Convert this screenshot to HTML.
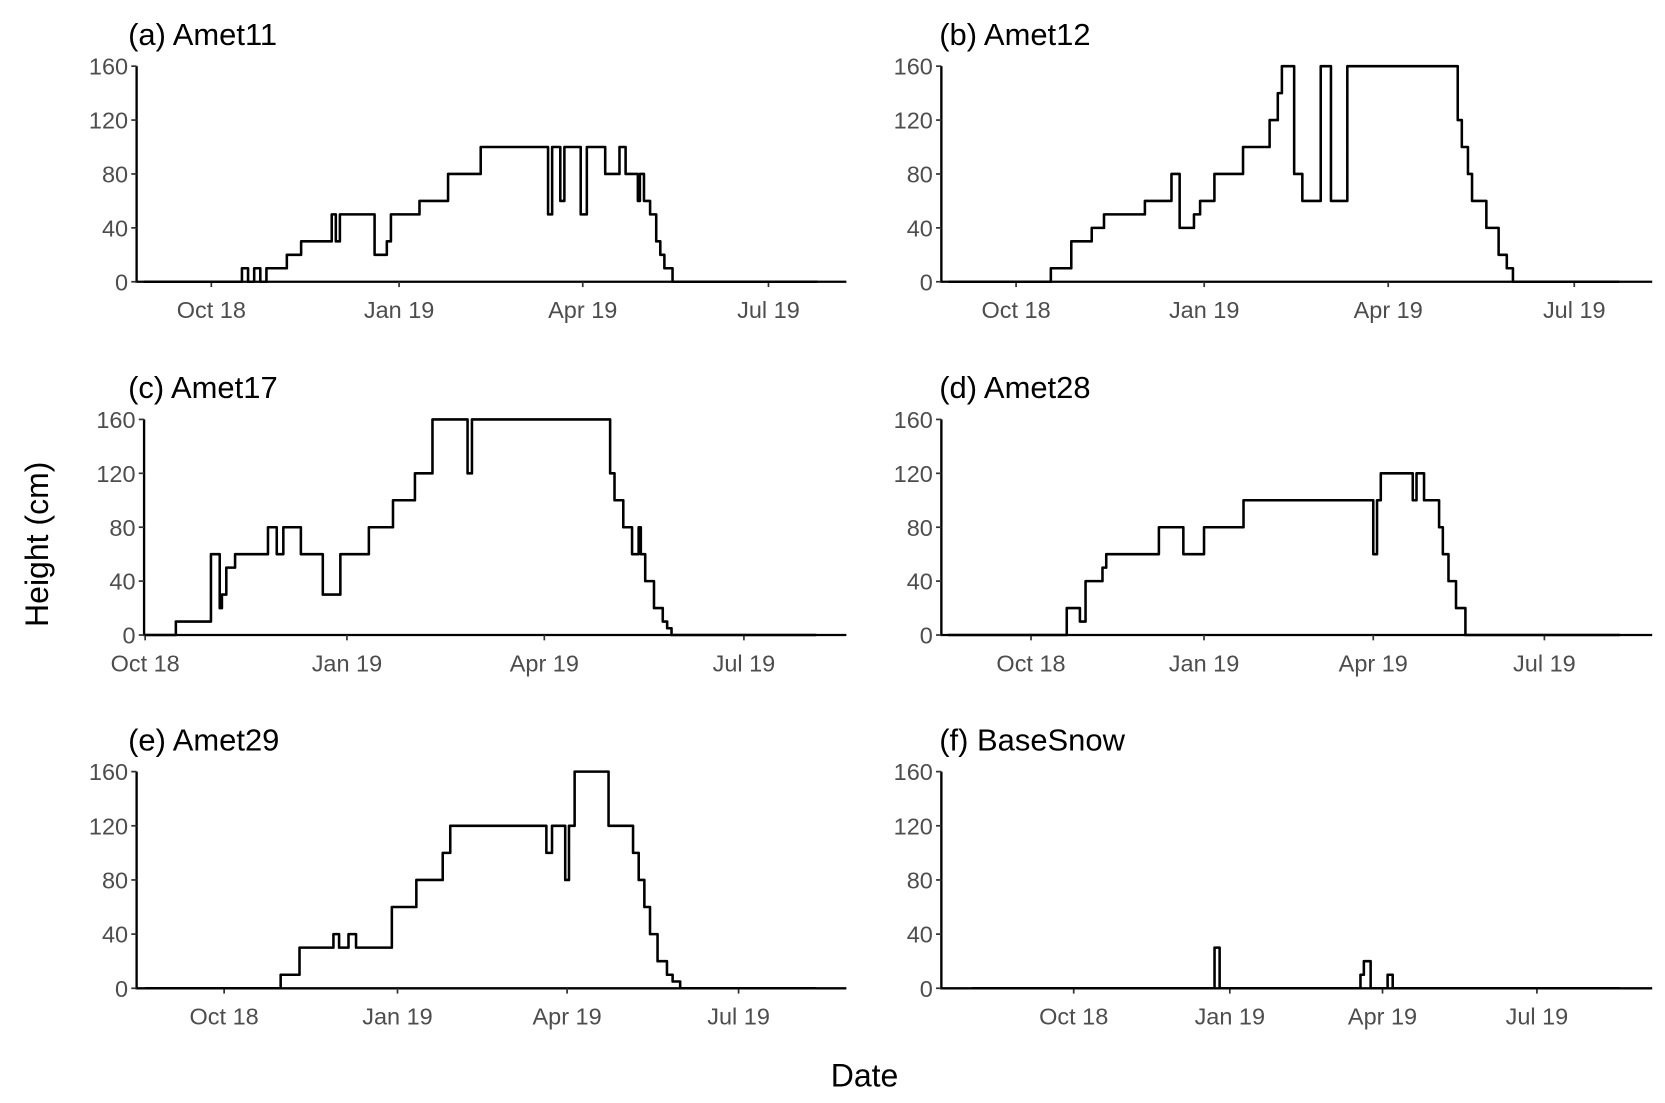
<!DOCTYPE html>
<html><head><meta charset="utf-8"><style>
html,body{margin:0;padding:0;background:#fff}
svg{display:block}
text{font-family:"Liberation Sans",sans-serif}
</style></head><body>
<svg id="fig" width="1665" height="1103" viewBox="0 0 1560 1033.5" preserveAspectRatio="none"></svg>
<script>
// x values: days since 1 Oct 2018; y values: snow height (cm), step series
const tickLabelsX = ["Oct 18","Jan 19","Apr 19","Jul 19"];
const tickDaysX = [0,92,182,273];
const tickLabelsY = ["0","40","80","120","160"];
const tickValuesY = [0,40,80,120,160];
const panelTitles = ["(a) Amet11","(b) Amet12","(c) Amet17","(d) Amet28","(e) Amet29","(f) BaseSnow"];

const daysA = [-33,15,18,21,24,27,37,44,59,61,63,80,86,88,102,116,132,165,167,171,173,181,184,193,200,203,209,210,212,215,218,220,222,226,297];
const valsA = [0,10,0,10,0,10,20,30,50,30,50,20,30,50,60,80,100,50,100,60,100,50,100,80,100,80,60,80,60,50,30,20,10,0,0];
const daysB = [-33,17,27,37,43,63,76,80,87,90,97,111,124,128,130,136,140,149,154,162,216,218,221,223,230,236,240,243,295];
const valsB = [0,10,30,40,50,60,80,40,50,60,80,100,120,140,160,80,60,160,60,160,120,100,80,60,40,20,10,0,0];
const daysC = [0,14,30,34,35,37,41,56,60,63,71,81,89,102,113,123,131,147,149,212,214,218,222,225,226,228,232,236,238,240,306];
const valsC = [0,10,60,20,30,50,60,80,60,80,60,30,60,80,100,120,160,120,160,120,100,80,60,80,60,40,20,10,5,0,0];
const daysD = [-44,19,26,29,38,40,68,81,92,113,182,184,186,203,205,209,217,219,222,226,231,313];
const valsD = [0,20,10,40,50,60,80,60,80,100,60,100,120,100,120,100,80,60,40,20,0,0];
const daysE = [-42,30,40,58,61,66,70,89,102,116,120,171,174,181,183,186,204,217,220,223,226,230,235,238,242,314];
const valsE = [0,10,30,40,30,40,30,60,80,100,120,100,120,80,120,160,120,100,80,60,40,20,10,5,0,0];
const daysF = [-60,83,86,169,171,175,177,185,188,322];
const valsF = [0,30,0,10,20,0,0,10,0,0];

const panels = [
 {L:128,R:793,T:62,B:264,x0:198,x1:720,days:daysA,vals:valsA,ty:42,tx:120},
 {L:882,R:1548,T:62,B:264,x0:952,x1:1475,days:daysB,vals:valsB,ty:42,tx:880},
 {L:135,R:793,T:393,B:595,x0:136,x1:697,days:daysC,vals:valsC,ty:373,tx:120},
 {L:882,R:1548,T:393,B:595,x0:966,x1:1447,days:daysD,vals:valsD,ty:373,tx:880},
 {L:128,R:793,T:723,B:926,x0:210,x1:692,days:daysE,vals:valsE,ty:703,tx:120},
 {L:882,R:1548,T:723,B:926,x0:1006,x1:1440,days:daysF,vals:valsF,ty:703,tx:880}
];
const NS="http://www.w3.org/2000/svg";
const svg=document.getElementById('fig');
function mk(tag,attrs,parent){const e=document.createElementNS(NS,tag);for(const k in attrs)e.setAttribute(k,attrs[k]);(parent||svg).appendChild(e);return e;}
panels.forEach((p,i)=>{
  const g=mk('g',{});
  
  
  const xs=d=>p.x0+(d-tickDaysX[0])*(p.x1-p.x0)/(tickDaysX[3]-tickDaysX[0]);
  const ys=v=>p.B-(v/160)*(p.B-p.T);
  const t=mk('text',{x:p.tx,y:p.ty,'font-size':29,fill:'#000'},g);
  t.textContent=panelTitles[i];
  
  
  const ax=mk('path',{d:`M${p.L},${p.T}V${p.B}H${p.R}`,stroke:'#000','stroke-width':2.2,fill:'none'},g);
  
  
  tickValuesY.forEach((v,j)=>{
    mk('line',{x1:p.L-5,x2:p.L,y1:ys(v),y2:ys(v),stroke:'#333','stroke-width':1.6},g);
    const tl=mk('text',{x:p.L-8,y:ys(v)+8,'font-size':22,fill:'#4d4d4d','text-anchor':'end'},g);
    tl.textContent=tickLabelsY[j];
    
    
  });
  tickDaysX.forEach((d,j)=>{
    mk('line',{x1:xs(d),x2:xs(d),y1:p.B,y2:p.B+5,stroke:'#333','stroke-width':1.6},g);
    const tl=mk('text',{x:xs(d),y:p.B+34,'font-size':22,fill:'#4d4d4d','text-anchor':'middle'},g);
    tl.textContent=tickLabelsX[j];
    
    
  });
  let d='';
  p.days.forEach((dd,k)=>{
    const x=xs(dd),y=ys(p.vals[k]);
    if(k===0) d+=`M${x},${y}`;
    else d+=`H${x}V${y}`;
  });
  const ln=mk('path',{d:d,stroke:'#000','stroke-width':2.4,fill:'none','stroke-linejoin':'round'},g);
  
  
});
const yt=mk('text',{x:0,y:0,'font-size':30,fill:'#000','text-anchor':'middle',transform:'translate(45,510) rotate(-90)'});
yt.textContent='Height (cm)';


const xt=mk('text',{x:810,y:1018,'font-size':30,fill:'#000','text-anchor':'middle'});
xt.textContent='Date';


</script>
</body></html>
